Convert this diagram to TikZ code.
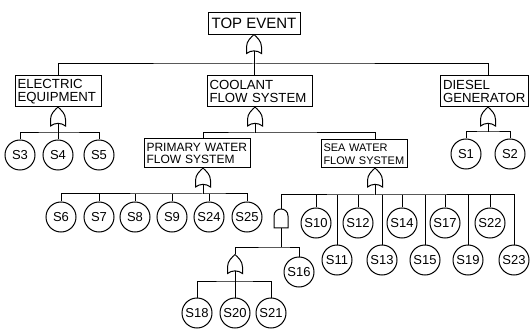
\documentclass[tikz,border=0pt]{standalone}
\usepackage{fontspec}
\setmainfont{Liberation Sans}
\newcommand\ORG[3]{% name, x, y (centre)
  \node[gate] (#1) at (#2,#3) {};
  \draw[ln] (#2-7.5,#3+9.5) -- (#2-7.5,#3+3)
    .. controls (#2-7.5,#3-3) and (#2-3,#3-6.5) .. (#2,#3-9.5)
    .. controls (#2+3,#3-6.5) and (#2+7.5,#3-3) .. (#2+7.5,#3+3)
    -- (#2+7.5,#3+9.5)
    .. controls (#2+3,#3+6) and (#2-3,#3+6) .. cycle;}
\newcommand\ANDG[3]{%
  \node[gate] (#1) at (#2,#3) {};
  \draw[ln] (#2-7,#3+9.5) -- (#2-7,#3-2.5)
    .. controls (#2-7,#3-11.8) and (#2+7,#3-11.8) .. (#2+7,#3-2.5)
    -- (#2+7,#3+9.5) -- cycle;}
\begin{document}
\begin{tikzpicture}[x=1pt,y=-1pt,
  ln/.style={line width=1pt},
  box/.style={draw, line width=1pt, rectangle, inner xsep=2.5pt, inner ysep=0pt,
    align=left, font=\fontsize{13.2}{13}\selectfont},
  evt/.style={draw, circle, line width=1pt, minimum size=30pt, inner sep=0pt,
    font=\fontsize{13}{13}\selectfont},
  gate/.style={rectangle, minimum width=15pt, minimum height=19pt, inner sep=0pt}]
\useasboundingbox (0,0) rectangle (530,331);

% top row
\node[box, minimum width=92pt, minimum height=21.5pt, font=\fontsize{15}{15}\selectfont] (top) at (254,23.75) {TOP EVENT};
\ORG{g0}{254}{44}
\node[box, text width=81pt, minimum height=31pt] (elec) at (58,91.5) {ELECTRIC\\EQUIPMENT};
\node[box, text width=100pt, minimum height=31pt] (cool) at (259.5,91.5) {COOLANT\\FLOW SYSTEM};
\node[box, text width=83pt, minimum height=31pt] (dies) at (484.5,91.5) {DIESEL\\GENERATOR};
\coordinate (b0) at (254,64);
\draw[ln] ([yshift=2.6pt]g0.south) -- (b0);
\draw[ln] (elec.north -| 58,0) |- (b0) -| (dies.north -| 488,0);
\draw[ln] (b0) -- (cool.north -| b0);

% electric equipment
\ORG{ge}{58}{116.5}
\node[evt] (s3) at (20,155) {S3};
\node[evt] (s4) at (58,155) {S4};
\node[evt] (s5) at (99,155) {S5};
\coordinate (b1) at (58,133);
\draw[ln] ([yshift=2.6pt]ge.south) -- (s4.north);
\draw[ln] (s3.north) |- (b1) -| (s5.north);

% diesel generator
\ORG{gd}{488}{116.5}
\node[evt] (s1) at (466,154) {S1};
\node[evt] (s2) at (510,154) {S2};
\coordinate (b3) at (488,132);
\draw[ln] ([yshift=2.6pt]gd.south) -- (b3);
\draw[ln] (s1.north) |- (b3) -| (s2.north);

% coolant flow system
\ORG{gc}{255}{116.5}
\node[box, font=\fontsize{12}{12.5}\selectfont, text width=101pt, minimum height=29pt] (prim) at (197,153.5) {PRIMARY WATER\\FLOW SYSTEM};
\node[box, font=\fontsize{11}{12.5}\selectfont, inner xsep=2pt, text width=82pt, minimum height=28pt] (sea) at (364.5,154) {SEA WATER\\FLOW SYSTEM};
\coordinate (b2) at (255,133);
\draw[ln] ([yshift=2.6pt]gc.south) -- (b2);
\draw[ln] (prim.north -| 203,0) |- (b2) -| (sea.north -| 375,0);

% primary water flow system
\ORG{gp}{203}{177.5}
\foreach \n/\x in {6/61,7/99,8/135,9/172,24/209,25/247}
  \node[evt] (s\n) at (\x,217) {S\n};
\coordinate (b4) at (203,194);
\draw[ln] ([yshift=2.6pt]gp.south) -- (b4);
\draw[ln] (s6.north) |- (b4) -| (s25.north);
\foreach \n in {7,8,9,24}
  \draw[ln] (s\n.north) -- (s\n.north |- b4);

% sea water flow system
\ORG{gs}{375}{177.5}
\foreach \n/\x in {10/316,12/358,14/402,17/445,22/490}
  \node[evt] (s\n) at (\x,223) {S\n};
\foreach \n/\x in {11/337,13/382,15/425,19/468,23/514}
  \node[evt] (s\n) at (\x,260) {S\n};
\ANDG{ga}{281}{218.5}
\coordinate (b5) at (375,195);
\draw[ln] ([yshift=2.6pt]gs.south) -- (b5);
\draw[ln] (ga.north) |- (b5) -| (s23.north);
\foreach \n in {10,11,12,13,14,15,17,19,22}
  \draw[ln] (s\n.north) -- (s\n.north |- b5);

% and gate branch
\node[evt] (s16) at (299,272) {S16};
\ORG{gl}{235}{264}
\coordinate (b6) at (281,247);
\draw[ln] (ga.south) -- (b6);
\draw[ln] (gl.north) |- (b6) -| (s16.north);
\node[evt] (s18) at (197,313) {S18};
\node[evt] (s20) at (235,313) {S20};
\node[evt] (s21) at (271,313) {S21};
\coordinate (b7) at (235,281);
\draw[ln] ([yshift=2.6pt]gl.south) -- (s20.north);
\draw[ln] (s18.north) |- (b7) -| (s21.north);
\end{tikzpicture}
\end{document}
